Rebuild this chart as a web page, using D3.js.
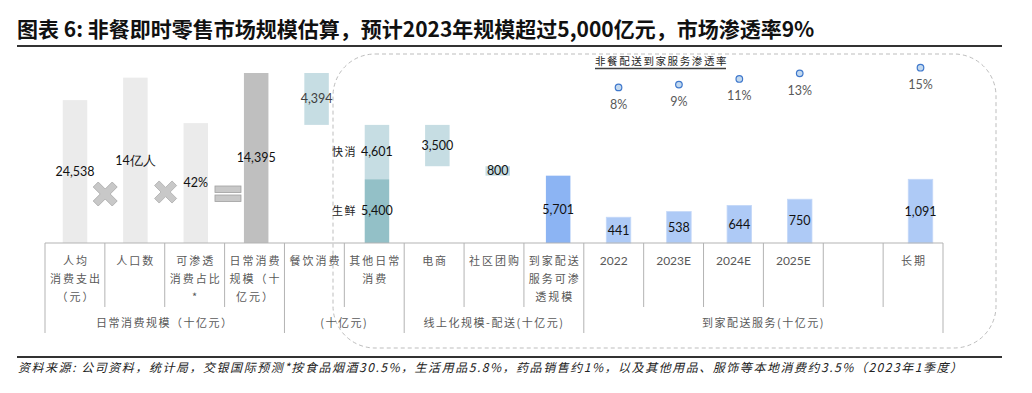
<!DOCTYPE html>
<html>
<head>
<meta charset="utf-8">
<script src="https://cdn.jsdelivr.net/npm/d3@7"></script>
<style>
  body { margin: 0; background: #fff; }
  svg { display: block; }
</style>
</head>
<body>
<div id="chart"></div>
<script>
// table columns (one per bar slot), each label split into lines
const colLabels = [
  ['人均', '消费支出', '（元）'],
  ['人口数'],
  ['可渗透', '消费占比', '*'],
  ['日常消费', '规模（十', '亿元）'],
  ['餐饮消费'],
  ['其他日常', '消费'],
  ['电商'],
  ['社区团购'],
  ['到家配送', '服务可渗', '透规模'],
  ['2022'],
  ['2023E'],
  ['2024E'],
  ['2025E'],
  [''],
  ['长期']
];
const groupLabels = ['日常消费规模（十亿元）', '(十亿元)', '线上化规模-配送(十亿元)', '到家配送服务(十亿元)'];
const groupStart = [0, 4, 6, 9];
const groupEnd = [3, 5, 8, 14];

// formula bars: labels and illustrative heights (in main-scale units)
const formulaCols = [0, 1, 2];
const formulaLabels = ['24,538', '14亿人', '42%'];
const formulaHeights = [12100, 14000, 10150];

// waterfall steps (十亿元)
const stepCols = [3, 4, 5, 5, 6, 7, 8];
const stepNames = ['', '', '快消', '生鲜', '', '', ''];
const stepValues = [14395, 4394, 4601, 5400, 3500, 800, 5701];
const stepBases = [0, 10001, 5400, 0, 6501, 5701, 0];
const stepKinds = ['total', 'part', 'part', 'fresh', 'part', 'part', 'delivery'];

// delivery service size and penetration
const deliveryCols = [9, 10, 11, 12, 14];
const deliveryValues = [441, 538, 644, 750, 1091];
const penetration = [8, 9, 11, 13, 15];

const kindColor = {
  total: '#bfbfbf',
  part: '#c6dde3',
  fresh: '#93c0c7',
  delivery: '#8cb4f3'
};

const W = 1032, H = 393;
const svg = d3.select('#chart').append('svg')
  .attr('width', W)
  .attr('height', H)
  .style('font-family', '"Noto Sans CJK SC", sans-serif');

const base = 243;
const xTable = d3.scaleBand().domain(d3.range(15)).range([45, 943]);
const xBar = d3.scalePoint().domain(d3.range(15)).range([75, 920.5]);
const barW = 24.5;
const yMain = d3.scaleLinear().domain([0, 14395]).range([base, 73]);
const yDel = d3.scaleLinear().domain([0, 1091]).range([base, 179.3]);
const yRate = d3.scaleLinear().domain([8, 15]).range([87.4, 67.7]);

const numFont = 'Lato, "Noto Sans", sans-serif';

// title
svg.append('text')
  .attr('x', 17)
  .attr('y', 37)
  .attr('font-size', 21)
  .attr('font-weight', 'bold')
  .attr('fill', '#111')
  .text('图表 6: 非餐即时零售市场规模估算，预计2023年规模超过5,000亿元，市场渗透率9%');

svg.append('line')
  .attr('x1', 17).attr('x2', 1002)
  .attr('y1', 46).attr('y2', 46)
  .attr('stroke', '#333')
  .attr('stroke-width', 2.2);

// dashed rounded frame
svg.append('rect')
  .attr('x', 333).attr('y', 54)
  .attr('width', 663).attr('height', 294)
  .attr('rx', 42).attr('ry', 42)
  .attr('fill', 'none')
  .attr('stroke', '#bdbdbd')
  .attr('stroke-dasharray', '4,3');

// formula bars
const fg = svg.append('g');
fg.selectAll('rect')
  .data(formulaCols)
  .enter()
  .append('rect')
  .attr('x', d => xBar(d) - barW / 2)
  .attr('y', (d, i) => yMain(formulaHeights[i]))
  .attr('width', barW)
  .attr('height', (d, i) => base - yMain(formulaHeights[i]))
  .attr('fill', '#ebebeb');

fg.selectAll('text')
  .data(formulaCols)
  .enter()
  .append('text')
  .attr('x', d => xBar(d))
  .attr('y', (d, i) => (yMain(formulaHeights[i]) + base) / 2)
  .attr('dy', '0.35em')
  .attr('text-anchor', 'middle')
  .attr('font-family', numFont)
  .attr('font-size', 12.5)
  .attr('fill', '#111')
  .text((d, i) => formulaLabels[i]);

// operator symbols between formula bars
const crossPath = 'M-12,-7 L-7,-12 L0,-5 L7,-12 L12,-7 L5,0 L12,7 L7,12 L0,5 L-7,12 L-12,7 L-5,0 Z';
[[0, 1, 194, 1], [1, 2, 192, 0.92]].forEach(([a, b, y, s]) => {
  svg.append('path')
    .attr('d', crossPath)
    .attr('transform', `translate(${(xBar(a) + xBar(b)) / 2}, ${y}) scale(${s})`)
    .attr('fill', '#c8c8c8')
    .attr('stroke', '#a8a8a8')
    .attr('stroke-width', 0.8);
});
const eqX = (xBar(2) + xBar(3)) / 2 + 2;
[186, 195].forEach(y => {
  svg.append('rect')
    .attr('x', eqX - 13).attr('y', y)
    .attr('width', 26).attr('height', 6.5)
    .attr('fill', '#c8c8c8')
    .attr('stroke', '#a0a0a0')
    .attr('stroke-width', 0.8);
});

// waterfall bars
const wg = svg.append('g');
const steps = stepCols.map((c, i) => ({
  col: c, name: stepNames[i], value: stepValues[i], lo: stepBases[i], kind: stepKinds[i]
}));

wg.selectAll('rect')
  .data(steps)
  .enter()
  .append('rect')
  .attr('x', d => xBar(d.col) - barW / 2)
  .attr('y', d => yMain(d.lo + d.value))
  .attr('width', barW)
  .attr('height', d => yMain(d.lo) - yMain(d.lo + d.value))
  .attr('fill', d => kindColor[d.kind]);

wg.selectAll('text.val')
  .data(steps)
  .enter()
  .append('text')
  .attr('class', 'val')
  .attr('x', d => xBar(d.col))
  .attr('y', d => (yMain(d.lo) + yMain(d.lo + d.value)) / 2)
  .attr('dy', '0.35em')
  .attr('text-anchor', 'middle')
  .attr('font-family', numFont)
  .attr('font-size', 12.5)
  .attr('fill', d => d.col === 4 ? '#404040' : '#111')
  .text(d => d3.format(',')(d.value));

wg.selectAll('text.name')
  .data(steps.filter(d => d.name))
  .enter()
  .append('text')
  .attr('class', 'name')
  .attr('x', d => xBar(d.col) - 20)
  .attr('y', d => (yMain(d.lo) + yMain(d.lo + d.value)) / 2)
  .attr('dy', '0.35em')
  .attr('text-anchor', 'end')
  .attr('font-size', 11)
  .attr('letter-spacing', 1.5)
  .attr('fill', '#222')
  .text(d => d.name);

// delivery service bars
const dg = svg.append('g');
dg.selectAll('rect')
  .data(deliveryValues)
  .enter()
  .append('rect')
  .attr('x', (d, i) => xBar(deliveryCols[i]) - barW / 2)
  .attr('y', d => yDel(d))
  .attr('width', barW)
  .attr('height', d => base - yDel(d))
  .attr('fill', '#aecaf6')
  .attr('stroke', '#c4d8f8')
  .attr('stroke-width', 0.8);

dg.selectAll('text')
  .data(deliveryValues)
  .enter()
  .append('text')
  .attr('x', (d, i) => xBar(deliveryCols[i]))
  .attr('y', d => (yDel(d) + base) / 2)
  .attr('dy', '0.35em')
  .attr('text-anchor', 'middle')
  .attr('font-family', numFont)
  .attr('font-size', 12.5)
  .attr('fill', '#111')
  .text(d => d3.format(',')(d));

// penetration dots
const pg = svg.append('g');
pg.selectAll('circle')
  .data(penetration)
  .enter()
  .append('circle')
  .attr('cx', (d, i) => xBar(deliveryCols[i]))
  .attr('cy', d => yRate(d))
  .attr('r', 3.3)
  .attr('fill', '#c3d9ef')
  .attr('stroke', '#3f78cc')
  .attr('stroke-width', 1.2);

pg.selectAll('text')
  .data(penetration)
  .enter()
  .append('text')
  .attr('x', (d, i) => xBar(deliveryCols[i]))
  .attr('y', d => yRate(d) + 17)
  .attr('dy', '0.35em')
  .attr('text-anchor', 'middle')
  .attr('font-family', numFont)
  .attr('font-size', 12.5)
  .attr('fill', '#595959')
  .text(d => d + '%');

// legend
svg.append('text')
  .attr('x', 595)
  .attr('y', 64.5)
  .attr('font-size', 10.5)
  .attr('letter-spacing', 1.6)
  .attr('fill', '#262626')
  .text('非餐配送到家服务渗透率');
svg.append('line')
  .attr('x1', 595).attr('x2', 726)
  .attr('y1', 68.5).attr('y2', 68.5)
  .attr('stroke', '#404040')
  .attr('stroke-width', 1.4);

// category table under the bars
const tg = svg.append('g');
const lineCol = '#b3b3b3';
const row1 = 307, row2 = 333;
tg.append('line')
  .attr('x1', 45).attr('x2', 943)
  .attr('y1', base).attr('y2', base)
  .attr('stroke', lineCol);

const bounds = d3.range(16).map(i => i < 15 ? xTable(i) : xTable(14) + xTable.bandwidth());
const groupBounds = new Set(groupStart.concat([15]));
tg.selectAll('line.div')
  .data(d3.range(16))
  .enter()
  .append('line')
  .attr('class', 'div')
  .attr('x1', i => bounds[i]).attr('x2', i => bounds[i])
  .attr('y1', base)
  .attr('y2', i => groupBounds.has(i) ? row2 : row1)
  .attr('stroke', lineCol);

colLabels.forEach((lines, c) => {
  const t = tg.append('text')
    .attr('text-anchor', 'middle')
    .attr('font-size', 11)
    .attr('fill', '#595959');
  lines.forEach((ln, k) => {
    const isNum = /^\d/.test(ln);
    t.append('tspan')
      .attr('x', xTable(c) + xTable.bandwidth() / 2 + (isNum ? 0 : 1))
      .attr('y', 265 + k * 18)
      .attr('letter-spacing', isNum ? 0 : 2)
      .attr('font-family', isNum ? numFont : null)
      .attr('font-size', isNum ? 12 : 11)
      .text(ln);
  });
});

tg.selectAll('text.grp')
  .data(groupLabels)
  .enter()
  .append('text')
  .attr('class', 'grp')
  .attr('x', (d, i) => (bounds[groupStart[i]] + bounds[groupEnd[i] + 1]) / 2)
  .attr('y', 327)
  .attr('text-anchor', 'middle')
  .attr('font-size', 11)
  .attr('letter-spacing', 1.5)
  .attr('fill', '#595959')
  .text(d => d);

// source note
svg.append('line')
  .attr('x1', 17).attr('x2', 1002)
  .attr('y1', 357).attr('y2', 357)
  .attr('stroke', '#333')
  .attr('stroke-width', 2);

svg.append('text')
  .attr('x', 18)
  .attr('y', 372)
  .attr('font-size', 12)
  .attr('font-style', 'italic')
  .attr('fill', '#222')
  .attr('textLength', 944)
  .attr('lengthAdjust', 'spacing')
  .text('资料来源: 公司资料，统计局，交银国际预测*按食品烟酒30.5%，生活用品5.8%，药品销售约1%，以及其他用品、服饰等本地消费约3.5%（2023年1季度）');
</script>
</body>
</html>
